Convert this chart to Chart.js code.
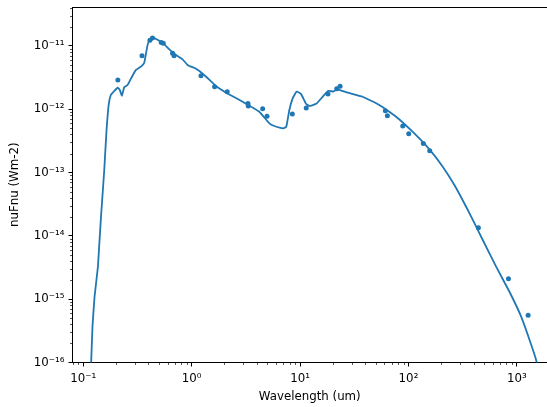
<!DOCTYPE html>
<html>
<head>
<meta charset="utf-8">
<title>SED</title>
<script src="https://cdn.jsdelivr.net/npm/chart.js@4.4.1/dist/chart.umd.min.js"></script>
<style>
  body { margin: 0; background: #fff; }
  #wrap { width: 547px; height: 407px; overflow: hidden; }
</style>
</head>
<body>
<div id="wrap"><canvas id="sed" width="551" height="407"></canvas></div>
<script>
// observed photometry (um, W m-2)
const obsWave = [0.209, 0.349, 0.413, 0.436, 0.525, 0.548, 0.668, 0.689, 1.22, 1.63, 2.13,
    3.31, 3.33, 4.52, 4.96, 8.49, 11.4, 18.1, 21.8, 23.4, 61.2, 63.9, 88.5, 100.5, 137, 157,
    441, 835, 1268];
const obsFlux = [2.9e-12, 7.0e-12, 1.23e-11, 1.34e-11, 1.14e-11, 1.1e-11, 7.67e-12, 7.0e-12,
    3.4e-12, 2.28e-12, 1.9e-12, 1.24e-12, 1.13e-12, 1.02e-12, 7.76e-13, 8.43e-13, 1.05e-12,
    1.74e-12, 2.12e-12, 2.31e-12, 9.5e-13, 7.93e-13, 5.45e-13, 4.12e-13, 2.87e-13, 2.22e-13,
    1.35e-14, 2.11e-15, 5.57e-16];

// model SED
const modelWave = [0.118, 0.122, 0.1274, 0.1369, 0.1417, 0.1469, 0.1566, 0.164, 0.172, 0.180,
    0.194, 0.208, 0.218, 0.228, 0.239, 0.257, 0.282, 0.307, 0.341, 0.366, 0.393, 0.413, 0.437,
    0.475, 0.540, 0.623, 0.718, 0.826, 0.919, 0.987, 1.06, 1.18, 1.36, 1.68, 2.08, 2.95, 4.21,
    5.21, 5.79, 7.01, 7.47, 7.97, 8.55, 9.31, 10.2, 11.4, 12.2, 14.1, 16.2, 18.2, 20.3, 22.2,
    26.6, 37.8, 53.9, 76.9, 109, 156, 207, 265, 340, 421, 484, 643, 853, 1094, 1324, 1503, 1560];
const modelFlux = [8e-17, 3.7e-16, 1.09e-15, 3.26e-15, 8.6e-15, 2.28e-14, 1.1e-13, 4.4e-13,
    1.17e-12, 1.68e-12, 1.95e-12, 2.19e-12, 2.02e-12, 1.64e-12, 2.23e-12, 2.42e-12, 3.27e-12,
    4.18e-12, 4.71e-12, 5.45e-12, 1.04e-11, 1.28e-11, 1.37e-11, 1.28e-11, 1.13e-11, 8.87e-12,
    7.21e-12, 6.16e-12, 5.01e-12, 4.71e-12, 4.54e-12, 4.03e-12, 3.27e-12, 2.33e-12, 1.83e-12,
    1.32e-12, 9.16e-13, 6.01e-13, 5.45e-13, 5.01e-13, 5.31e-13, 9.75e-13, 1.49e-12, 1.91e-12,
    1.75e-12, 1.21e-12, 1.13e-12, 1.22e-12, 1.58e-12, 1.95e-12, 1.91e-12, 2.07e-12, 1.86e-12,
    1.58e-12, 1.17e-12, 7.64e-13, 4.43e-13, 2.33e-13, 1.24e-13, 6.37e-14, 2.89e-14, 1.40e-14,
    8.61e-15, 3.26e-15, 1.31e-15, 5.30e-16, 2.13e-16, 1.10e-16, 8e-17];

// major tick values
const xTicks = [0.1, 1, 10, 100, 1000];
const yTicks = [1e-16, 1e-15, 1e-14, 1e-13, 1e-12, 1e-11];

const blue = '#1f77b4';
const font = { family: 'DejaVu Sans', size: 11.8 };

function sup(n) {
    const map = { '-': '\u207b', '0': '\u2070', '1': '\u00b9', '2': '\u00b2', '3': '\u00b3',
        '4': '\u2074', '5': '\u2075', '6': '\u2076', '7': '\u2077', '8': '\u2078', '9': '\u2079' };
    return String(n).split('').map(c => map[c]).join('');
}

function powLabel(v) {
    return '10' + sup(Math.round(Math.log10(v)));
}

// minor ticks and top spine, matplotlib style
const minorTicks = {
    id: 'minorTicks',
    afterDraw(chart) {
        const ctx = chart.ctx;
        const area = chart.chartArea;
        ctx.save();
        ctx.strokeStyle = '#000';
        ctx.lineWidth = 0.7;
        ['x', 'y'].forEach(id => {
            const scale = chart.scales[id];
            const lo = Math.floor(Math.log10(scale.min));
            const hi = Math.ceil(Math.log10(scale.max));
            for (let e = lo; e <= hi; e++) {
                for (let m = 2; m <= 9; m++) {
                    const v = m * Math.pow(10, e);
                    if (v < scale.min || v > scale.max) continue;
                    const p = Math.round(scale.getPixelForValue(v)) + 0.5;
                    ctx.beginPath();
                    if (id === 'x') {
                        ctx.moveTo(p, area.bottom);
                        ctx.lineTo(p, area.bottom + 2.4);
                    } else {
                        ctx.moveTo(area.left, p);
                        ctx.lineTo(area.left - 2.4, p);
                    }
                    ctx.stroke();
                }
            }
        });
        ctx.lineWidth = 1;
        ctx.beginPath();
        ctx.moveTo(area.left, area.top + 0.5);
        ctx.lineTo(area.right, area.top + 0.5);
        ctx.stroke();
        ctx.restore();
    }
};

Chart.defaults.color = '#000';
Chart.defaults.font.family = 'DejaVu Sans';

const ctx = document.getElementById('sed').getContext('2d');
new Chart(ctx, {
    type: 'scatter',
    data: {
        datasets: [{
            type: 'line',
            data: modelWave.map((w, i) => ({ x: w, y: modelFlux[i] })),
            borderColor: blue,
            borderWidth: 1.8,
            pointRadius: 0,
            fill: false,
            tension: 0.1
        }, {
            data: obsWave.map((w, i) => ({ x: w, y: obsFlux[i] })),
            backgroundColor: blue,
            borderColor: blue,
            borderWidth: 0,
            pointRadius: 2.5
        }]
    },
    options: {
        responsive: false,
        animation: false,
        layout: { padding: 0 },
        plugins: { legend: { display: false }, tooltip: { enabled: false } },
        scales: {
            x: {
                type: 'logarithmic',
                min: 0.0798,
                max: 1893,
                afterBuildTicks: scale => { scale.ticks = xTicks.map(v => ({ value: v })); },
                afterFit: scale => {
                    scale.height = 44.5;
                    scale.paddingLeft = 0;
                    scale.paddingRight = 0;
                },
                ticks: { font: font, padding: 5, maxRotation: 0, autoSkip: false, callback: v => powLabel(v) },
                grid: { drawOnChartArea: false, color: '#000', lineWidth: 1, tickLength: 4 },
                border: { color: '#000', width: 1 },
                title: { display: true, text: 'Wavelength (um)', font: font, padding: { top: 0, bottom: 2.5 } }
            },
            y: {
                type: 'logarithmic',
                min: 1e-16,
                max: 4.13e-11,
                afterBuildTicks: scale => { scale.ticks = yTicks.map(v => ({ value: v })); },
                afterFit: scale => {
                    scale.width = 72.5;
                    scale.paddingTop = 7;
                    scale.paddingBottom = 0;
                },
                ticks: { font: font, padding: 4, autoSkip: false, callback: v => powLabel(v) },
                grid: { drawOnChartArea: false, color: '#000', lineWidth: 1, tickLength: 4 },
                border: { color: '#000', width: 1 },
                title: { display: true, text: 'nuFnu (Wm-2)', font: font, padding: { top: 8, bottom: 0 } }
            }
        }
    },
    plugins: [minorTicks]
});
</script>
</body>
</html>
